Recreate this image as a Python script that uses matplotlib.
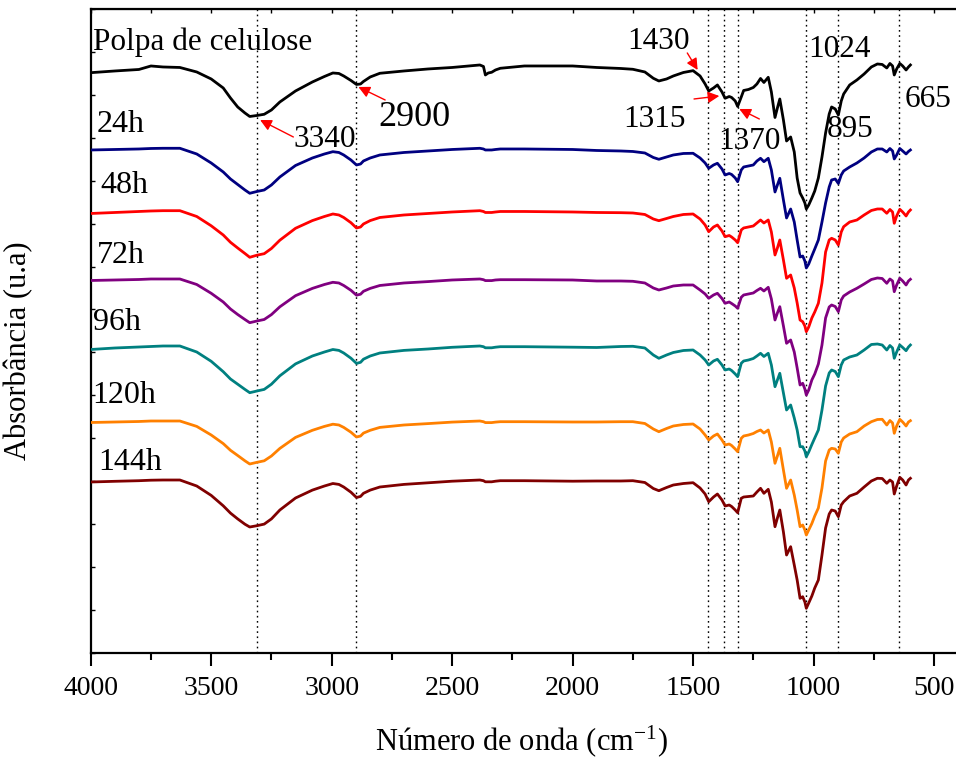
import matplotlib
matplotlib.use("Agg")
import matplotlib.pyplot as plt
import numpy as np

plt.rcParams["font.family"] = ["Liberation Serif", "DejaVu Serif"]
plt.rcParams["mathtext.fontset"] = "custom"
plt.rcParams["mathtext.rm"] = "Liberation Serif"
plt.rcParams["mathtext.it"] = "Liberation Serif:italic"

# Wavenumber grid (cm-1), shared by all spectra
wavenumber = [
    4000, 3900, 3800, 3750, 3700, 3630, 3560, 3500, 3450, 3420,
    3390, 3360, 3340, 3310, 3280, 3250, 3215, 3150, 3080, 3030,
    2995, 2970, 2950, 2920, 2897, 2880, 2868, 2840, 2800, 2700,
    2600, 2500, 2385, 2370, 2362, 2350, 2336, 2320, 2300, 2200,
    2000, 1900, 1800, 1750, 1700, 1665, 1642, 1610, 1582, 1540,
    1500, 1471, 1450, 1435, 1415, 1399, 1380, 1367, 1350, 1340,
    1325, 1315, 1300, 1290, 1270, 1250, 1235, 1220, 1206, 1188,
    1175, 1160, 1150, 1140, 1125, 1112, 1095, 1080, 1068, 1056,
    1045, 1036, 1030, 1020, 1007, 995, 980, 965, 950, 935,
    925, 910, 897, 885, 875, 850, 820, 790, 760, 735,
    715, 696, 683, 672, 665, 655, 642, 630, 616, 606,
    598,
]

# Absorbance (a.u., stacked spectra)
polpa = [
    580.3, 582, 583.5, 587, 586, 585.5, 581, 574, 565, 555,
    546, 540, 536.5, 537.5, 538.7, 543, 551, 562, 571, 576.5,
    580, 579.5, 577, 572.5, 568.5, 569, 571.5, 576, 579.7, 582,
    584, 585.5, 588, 586.5, 578, 580, 580.7, 583, 584.7, 587,
    587, 585.5, 584.5, 583.7, 581, 574.7, 572, 574, 577, 580.5,
    582.3, 577, 569, 562, 565, 568, 561, 554.7, 556.5, 555.5,
    552, 546.5, 556, 562.5, 563.5, 565.5, 569, 574.5, 570.5, 575.7,
    561, 535.5, 545, 554, 533, 512, 516, 501, 475, 460,
    455, 450, 444, 448, 455, 462, 475, 496, 520, 539,
    546, 544, 538, 552, 559, 568, 573, 579, 586, 589,
    588.5, 585, 589.5, 587, 578, 584, 589.5, 587, 583, 586,
    588,
]
h24 = [
    503, 503.5, 504, 504.5, 504.7, 504.7, 499, 490, 481, 474,
    468.5, 463, 459.7, 461.5, 463, 468, 476, 487.5, 495, 499,
    501.3, 500.5, 498, 493, 488, 489, 492, 495, 498, 500.5,
    502, 503.5, 504.7, 504, 503, 503, 503, 503.5, 504, 504,
    503.5, 502.5, 502, 501.5, 500, 495.5, 493.7, 496, 498, 499.5,
    499.7, 495, 490, 484.7, 488, 489.7, 484, 478, 479.5, 478.5,
    475, 471.3, 483, 486, 487, 488, 492, 494.7, 491.3, 494.7,
    483, 461, 468, 474.7, 453, 435, 444, 431, 413, 396,
    397, 392, 385, 389, 397, 404, 413, 431, 450, 466,
    473, 474, 469.5, 478, 482, 486, 490, 495, 501, 504,
    504, 501, 504.5, 502, 494, 498, 504.5, 502, 499, 501.5,
    503,
]
h48 = [
    439.5, 440.5, 441.5, 442, 442.3, 442.3, 436.5, 427.2, 418, 410.7,
    405, 399.5, 395.7, 397.8, 399.3, 404.5, 412.8, 424.7, 432.4, 436.5,
    439, 438, 435.5, 430.3, 425, 426, 429, 432.4, 435.5, 438,
    439.5, 441, 442.3, 441.5, 440.5, 440.5, 440.5, 441, 441.5, 441.5,
    441, 440.5, 440.3, 440, 438.5, 434, 432.3, 434.5, 436.5, 438.5,
    439, 434, 428, 421.3, 426, 428, 422, 416.3, 417.5, 416,
    413, 410.3, 423, 425, 426, 427, 430, 433, 430, 433,
    421, 398, 405, 413, 393, 374.7, 378, 365, 350, 333,
    331.3, 327, 321.3, 326, 335, 341, 349.7, 370, 401, 413,
    414.7, 413, 408, 421, 426.3, 431, 433, 438, 442.5, 444,
    444, 439.7, 443.5, 441, 429.7, 437, 443.7, 441, 437, 441,
    443,
]
h72 = [
    372.5, 373, 373.5, 374, 374, 374, 368.5, 359.7, 351, 344,
    338.5, 333.5, 330.3, 332, 333.5, 338.4, 346.2, 357.3, 364.6, 368.5,
    370.7, 370, 367.5, 362.7, 357.8, 358.8, 361.7, 364.6, 367.5, 370,
    371.4, 373, 374, 373.3, 372.4, 372.4, 372.4, 373, 373.3, 373.3,
    373, 372, 372, 371.7, 370, 365, 363, 365, 367, 368,
    368, 363, 359, 354.7, 358, 359.7, 354.5, 349.7, 351, 349.5,
    347, 344.7, 355.7, 358, 359, 360, 362.5, 364.7, 362, 365.7,
    354, 333, 340, 346.3, 327, 309.7, 313, 301, 285, 268,
    269.7, 264, 258, 263, 273, 279, 289, 308, 335, 346,
    348, 346.5, 341.3, 353, 357, 361, 364.7, 369, 373.5, 375,
    374.5, 369.7, 374, 372, 361.3, 368, 374.7, 372, 368, 372,
    373.7,
]
h96 = [
    303.5, 305, 306, 306.5, 307, 307, 301, 291.7, 281.3, 274,
    268.8, 263.6, 260.3, 262, 263.6, 268.8, 277.2, 289.1, 297, 301,
    303.5, 302.6, 300, 294.8, 289.6, 290.7, 293.8, 297, 300, 302.6,
    304, 305.7, 307, 306.3, 305.2, 305.2, 305.2, 305.8, 306.3, 306.3,
    305.8, 305.5, 306.5, 306.7, 305, 298, 294.7, 298, 300.5, 302.5,
    303, 298, 293, 288, 292, 293.7, 288, 283, 284, 282.5,
    279, 276.3, 289.7, 292, 293, 294.5, 297, 299.7, 296.5, 299.7,
    288, 266.3, 273, 279.7, 260, 243, 248, 235, 223, 206.3,
    206.3, 202, 196.3, 201, 208.5, 215, 223, 243, 267, 280,
    283, 281.5, 276.3, 288, 293, 296, 298, 303, 308.5, 309,
    308, 303, 307.5, 305, 294.7, 301, 308, 305.5, 302.3, 306,
    308,
]
h120 = [
    230.5, 231, 231.5, 232, 232, 232, 226.6, 218, 209.4, 202.7,
    197.5, 192.2, 189, 190.7, 192.2, 197, 204.6, 215.6, 222.7, 226.6,
    228.8, 228, 225.6, 220.8, 216, 217, 219.9, 222.7, 225.6, 228,
    229.4, 230.9, 232, 231.3, 230.4, 230.4, 230.4, 230.9, 231.3, 231.3,
    231, 231, 231.3, 231.3, 229.5, 224, 221.3, 224.5, 227, 228.5,
    229, 224, 218, 213, 217, 219, 213, 208, 209, 207.5,
    204, 201.3, 214.7, 217, 218, 219.5, 221.5, 223, 220, 223,
    211, 189.7, 197, 204.7, 183, 164.7, 173, 158, 143, 126.3,
    128, 123, 118, 123, 129.5, 137, 145, 165, 192, 203,
    204.7, 204, 199.7, 211, 215, 219, 221.3, 227, 231.3, 233.5,
    233.7, 228, 232.5, 230, 219.7, 227, 233.7, 231, 227, 231,
    232.3,
]
h144 = [
    171, 171.7, 172.3, 172.8, 173, 173, 167, 157.6, 147.2, 139.9,
    134.1, 128.8, 126, 127.3, 128.9, 134.1, 143, 155, 162.9, 167,
    169.5, 168.6, 166, 160.8, 155.5, 156.6, 159.7, 162.9, 166, 168.6,
    170.2, 171.8, 173, 172.3, 171.2, 171.2, 171.2, 171.8, 172.3, 172.3,
    171.8, 172, 172, 172.3, 170.5, 164.5, 162.3, 165.5, 168, 169.5,
    170.3, 165, 159, 151.3, 156, 159, 153, 147, 148, 146.5,
    143, 140.3, 154.7, 156, 156.5, 157, 161, 164.7, 159.7, 163.7,
    151, 126.3, 135, 143, 121, 98, 106.3, 88, 73, 54.7,
    56.3, 51, 44.7, 50, 57, 65, 73, 98, 125, 139,
    143, 142, 136.3, 148, 151.3, 157, 159.7, 166, 172, 174.7,
    174.5, 169.7, 173, 171, 159, 167, 175.7, 173, 168, 173,
    174.7,
]

series = [polpa, h24, h48, h72, h96, h120, h144]
series_labels = ["Polpa de celulose", "24h", "48h", "72h", "96h", "120h", "144h"]
series_colors = ["#000000", "#000080", "#ff0000", "#800080", "#008080", "#ff8000", "#800000"]
label_pos = [(3990, 611), (3974, 528), (3961, 467), (3974, 397), (3990, 330), (3995, 257), (3970, 191)]
label_size = [22.5, 23, 23, 23, 23, 23, 23]

# Band positions marked with dotted guides
band_lines = [3310, 2897, 1440, 1372, 1312, 1033, 897, 645]

# Band annotations: text, text position, arrow (tail, head) or None, font size
band_text = ["3340", "2900", "1430", "1315", "1370", "1024", "895", "665"]
band_text_pos = [(3028, 513), (2658, 535), (1645, 611), (1662, 533), (1268, 511), (894, 603), (848, 523), (525, 553)]
band_arrows = [((3159, 516), (3297, 533)), ((2778, 553), (2889, 566)), ((1524, 600), (1481, 583)),
               ((1496, 554), (1391, 557)), ((1225, 534), (1308, 544)), None, None, None]
band_size = [22.5, 26, 22.5, 22.5, 22.5, 22.5, 22.5, 22.5]

fig = plt.figure(figsize=(9.56, 7.58), dpi=100)
ax = fig.add_axes([0.0949, 0.1389, 0.9073, 0.849])

for vals, col in zip(series, series_colors):
    ax.plot(wavenumber, vals, color=col, lw=2.0, solid_joinstyle="round", zorder=3)

ymin, ymax = 0.3, 643.8
for b in band_lines:
    ax.plot([b, b], [ymin, ymax], color="black", lw=1.0, ls=(0, (1.2, 2.5)), zorder=2)

for lab, (x, y), fs in zip(series_labels, label_pos, label_size):
    ax.text(x, y, lab, fontsize=fs, ha="left", va="center", color="black", zorder=4)

for t, (x, y), arr, fs in zip(band_text, band_text_pos, band_arrows, band_size):
    ax.text(x, y, t, fontsize=fs, ha="center", va="center", color="black", zorder=4)
    if arr is not None:
        ax.annotate("", xy=arr[1], xytext=arr[0],
                    arrowprops=dict(arrowstyle="-|>", color="red", lw=1.0,
                                    mutation_scale=17, shrinkA=0, shrinkB=0),
                    zorder=5)

ax.set_xlim(4000, 400)
ax.set_ylim(ymin, ymax)
ax.set_xticks([4000, 3500, 3000, 2500, 2000, 1500, 1000, 500])
ax.set_xticks(np.arange(3750, 400, -500), minor=True)
ax.set_yticks(ymin + 42.9 * np.arange(16))
ax.set_yticklabels([])
ax.tick_params(axis="x", which="major", direction="out", length=9, width=1.5,
               labelsize=20, pad=8)
ax.tick_params(axis="x", which="minor", direction="out", length=5, width=1.5)
ax.tick_params(axis="y", which="major", direction="in", length=3, width=1.0)
for s in ["left", "bottom", "top", "right"]:
    ax.spines[s].set_linewidth(1.6)

# small inward ticks along the top frame
top = ax.secondary_xaxis("top")
top.set_xticks(np.arange(4000, 400, -250))
top.tick_params(direction="in", length=3, width=1.0, labeltop=False)

ax.set_xlabel(r"Número de onda (cm$^{\mathregular{-1}}$)", fontsize=22)
ax.xaxis.set_label_coords(0.497, -0.109)
ax.set_ylabel("Absorbância (u.a)", fontsize=22)
ax.yaxis.set_label_coords(-0.0665, 0.47)

fig.savefig("out.png", dpi=100)
